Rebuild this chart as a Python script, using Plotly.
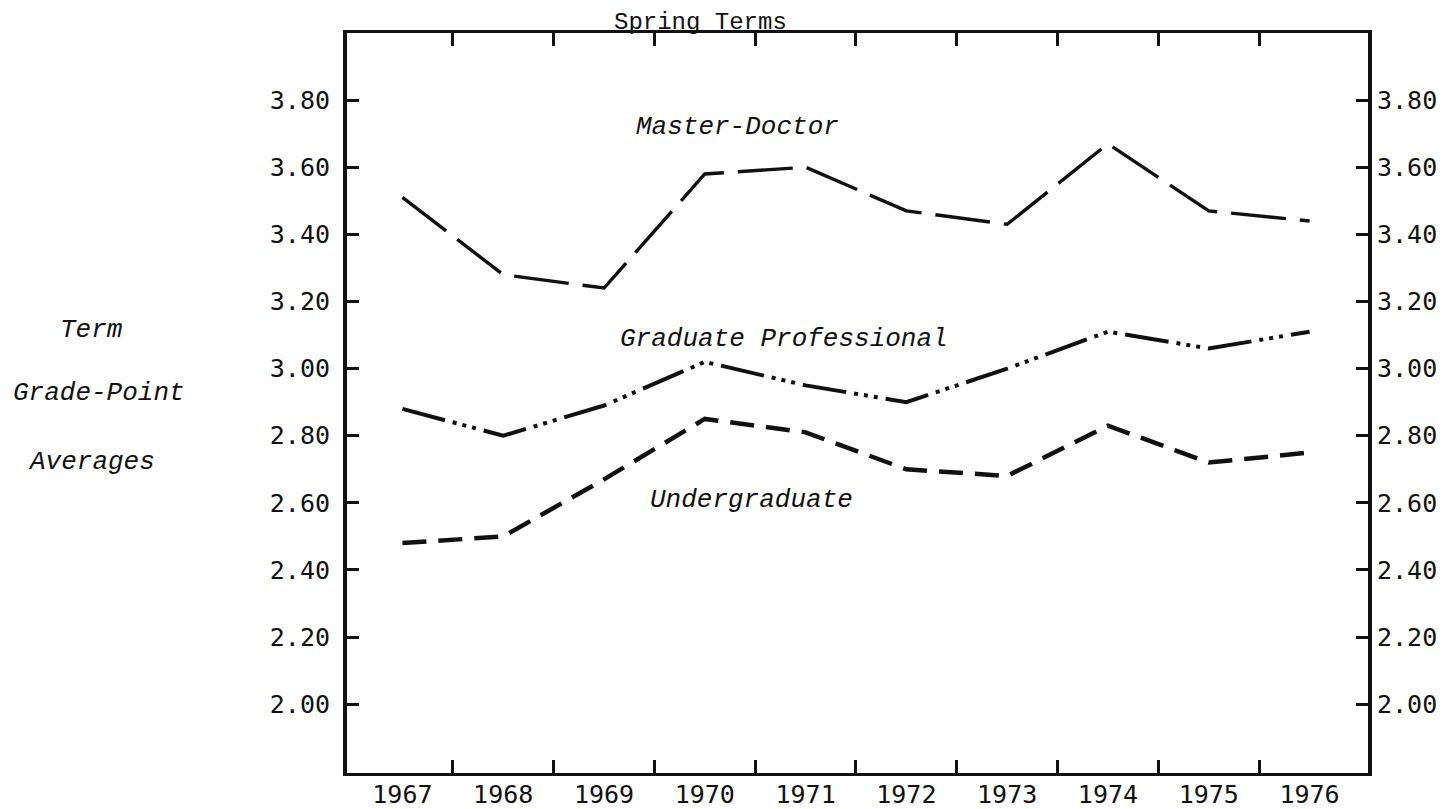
import plotly.graph_objects as go

# Spring-term grade-point averages by student level
years = [1967, 1968, 1969, 1970, 1971, 1972, 1973, 1974, 1975, 1976]
year_labels = [str(y) for y in years]

master_doctor = [3.51, 3.28, 3.24, 3.58, 3.60, 3.47, 3.43, 3.67, 3.47, 3.44]
graduate_professional = [2.88, 2.80, 2.89, 3.02, 2.95, 2.90, 3.00, 3.11, 3.06, 3.11]
undergraduate = [2.48, 2.50, 2.67, 2.85, 2.81, 2.70, 2.68, 2.83, 2.72, 2.75]

gpa_ticks = [2.00, 2.20, 2.40, 2.60, 2.80, 3.00, 3.20, 3.40, 3.60, 3.80]
year_bounds = [1967.5, 1968.5, 1969.5, 1970.5, 1971.5, 1972.5, 1973.5, 1974.5, 1975.5]

X_RANGE = [1966.45, 1976.58]
Y_RANGE = [1.795, 4.0]
INK = "#111111"
MONO = "DejaVu Sans Mono, Liberation Mono, monospace"
TYPE = "Liberation Mono, Courier New, monospace"

fig = go.Figure()

fig.add_trace(go.Scatter(
    x=years, y=master_doctor, mode="lines", name="Master-Doctor",
    line=dict(color=INK, width=3.4, dash="55px,14px"),
    showlegend=False, hoverinfo="skip",
))
fig.add_trace(go.Scatter(
    x=years, y=graduate_professional, mode="lines", name="Graduate Professional",
    line=dict(color=INK, width=4, dash="44px,8px,4px,6px,4px,6px,4px,8px"),
    showlegend=False, hoverinfo="skip",
))
fig.add_trace(go.Scatter(
    x=years, y=undergraduate, mode="lines", name="Undergraduate",
    line=dict(color=INK, width=4.5, dash="24px,12px"),
    showlegend=False, hoverinfo="skip",
))
# carrier for the labelled year axis and the right-hand GPA axis
fig.add_trace(go.Scatter(
    x=years, y=[None] * len(years), xaxis="x2", yaxis="y2",
    mode="lines", showlegend=False, hoverinfo="skip",
))

fig.update_layout(
    width=1447, height=809,
    margin=dict(l=347, r=79, t=33, b=36, autoexpand=False),
    paper_bgcolor="white", plot_bgcolor="white",
    xaxis=dict(
        range=X_RANGE, tickvals=year_bounds, showticklabels=False,
        ticks="inside", ticklen=13, tickwidth=3, tickcolor=INK,
        showline=True, linewidth=3, linecolor=INK, mirror="allticks",
        showgrid=False, zeroline=False, automargin=False,
    ),
    xaxis2=dict(
        range=X_RANGE, overlaying="x", side="bottom", anchor="y",
        tickvals=years, ticktext=year_labels, ticks="",
        showline=False, showgrid=False, zeroline=False, automargin=False,
        tickfont=dict(family=MONO, size=25, color=INK),
        ticklabelstandoff=4,
    ),
    yaxis=dict(
        range=Y_RANGE, tickvals=gpa_ticks, tickformat=".2f",
        ticks="inside", ticklen=12, tickwidth=3, tickcolor=INK,
        showline=True, linewidth=4, linecolor=INK, mirror="allticks",
        showgrid=False, zeroline=False, automargin=False,
        tickfont=dict(family=MONO, size=25, color=INK),
        ticklabelstandoff=8,
    ),
    yaxis2=dict(
        range=Y_RANGE, overlaying="y", side="right", anchor="x",
        tickvals=gpa_ticks, tickformat=".2f", ticks="",
        showline=False, showgrid=False, zeroline=False, automargin=False,
        tickfont=dict(family=MONO, size=25, color=INK),
        ticklabelstandoff=8,
    ),
)

italic = dict(family=TYPE, size=26, color=INK, style="italic")

# series labels, placed in data space
series_labels = [
    ("Master-Doctor", 1970.32, 3.72),
    ("Graduate Professional", 1970.79, 3.087),
    ("Undergraduate", 1970.46, 2.609),
]
for text, lx, ly in series_labels:
    fig.add_annotation(x=lx, y=ly, xref="x", yref="y", text=text,
                       showarrow=False, font=italic,
                       xanchor="center", yanchor="middle")

# vertical axis title, stacked on three lines
axis_title = [("Term", -0.2507, 0.5986), ("Grade-Point", -0.2429, 0.5135),
              ("Averages", -0.2507, 0.4203)]
for text, ax, ay in axis_title:
    fig.add_annotation(x=ax, y=ay, xref="paper", yref="paper", text=text,
                       showarrow=False, font=italic,
                       xanchor="center", yanchor="middle")

fig.add_annotation(x=0.3467, y=1.0, xref="paper", yref="paper",
                   text="Spring Terms", showarrow=False,
                   font=dict(family=TYPE, size=24, color=INK),
                   xanchor="center", yanchor="bottom", yshift=-5)

fig.write_html("out.html")
